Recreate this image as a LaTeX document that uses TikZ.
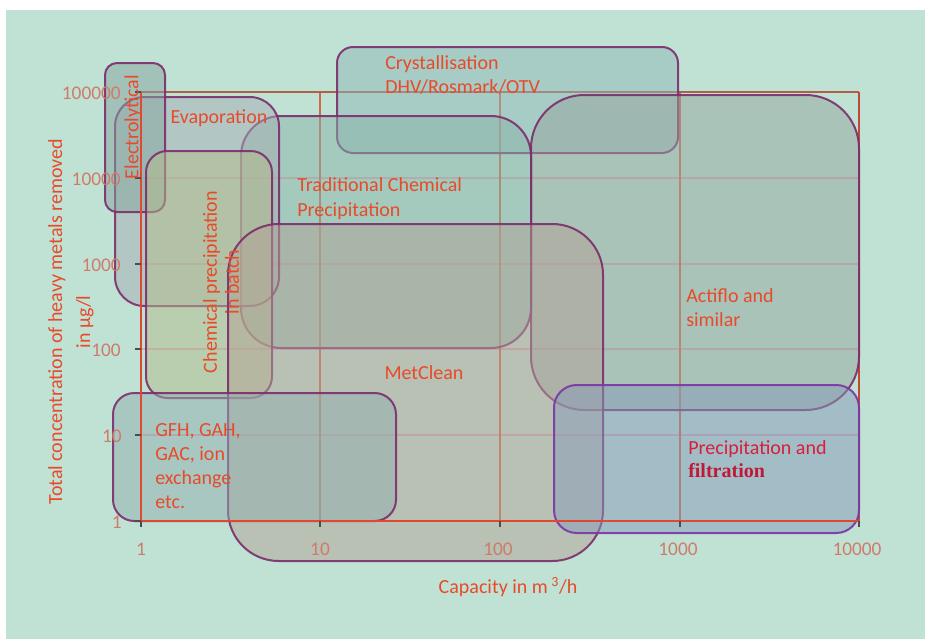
\documentclass[tikz,border=0pt]{standalone}
\usepackage{fontspec}
\setmainfont{Carlito}
\newfontfamily\serifb{Liberation Serif}
\definecolor{bgc}{HTML}{C0E2D4}
\definecolor{bord}{HTML}{7B2D6B}
\definecolor{bordv}{HTML}{7A35A5}
\definecolor{txt}{HTML}{E84A2A}
\definecolor{tick}{HTML}{CF7B6A}
\definecolor{crim}{HTML}{D81E3C}
\definecolor{crimd}{HTML}{C01838}
\definecolor{gridh}{HTML}{D4AAB4}
\definecolor{gridv}{HTML}{D06848}
\definecolor{axisc}{HTML}{E04830}
\definecolor{cElec}{HTML}{86A4A0}
\definecolor{cEvap}{HTML}{A6AEB4}
\definecolor{cBatch}{HTML}{B4BC8A}
\definecolor{cTrad}{HTML}{88B4A8}
\definecolor{cCryst}{HTML}{90B6B8}
\definecolor{cActi}{HTML}{96A69E}
\definecolor{cMet}{HTML}{B2A296}
\definecolor{cGFH}{HTML}{92AEB0}
\definecolor{cPF}{HTML}{869AB8}
\begin{document}
\begin{tikzpicture}[x=0.75pt,y=-0.75pt,
  lbl/.style={text=txt,font=\fontsize{15}{18.5}\selectfont,inner sep=0pt},
  ticklbl/.style={text=tick,font=\fontsize{14.5}{16}\selectfont,inner sep=0pt},
  box/.style={draw=bord,line width=1.5pt,fill opacity=0.5,draw opacity=0.9},
  gridline/.style={line width=0.8pt}]
\useasboundingbox (0,0) rectangle (925,639);
\fill[white] (0,0) rectangle (925,639);
\fill[bgc] (6,10) rectangle (925,639);
% grid
\foreach \yy in {178,264,349,435} \draw[gridline,gridh] (141,\yy) -- (859,\yy);
\foreach \xx in {320,500,680} \draw[gridline,gridv] (\xx,92) -- (\xx,521);
\draw[line width=0.8pt,color={rgb,255:red,176;green,96;blue,72}] (141,92) -- (859,92);
\draw[line width=1pt,color={rgb,255:red,192;green,72;blue,56}] (859,92) -- (859,521);
% boxes
\filldraw[box,fill=cCryst,rounded corners=12pt] (337,47) rectangle (678,153);
\filldraw[box,fill=cActi,rounded corners=40pt] (531,95) rectangle (859,410);
\filldraw[box,fill=cTrad,rounded corners=30pt] (241,116) rectangle (531,348);
\filldraw[box,fill=cEvap,rounded corners=22pt] (115,97) rectangle (279,306);
\filldraw[box,fill=cElec,rounded corners=9pt] (105,63) rectangle (165,212);
\filldraw[box,fill=cBatch,rounded corners=16pt] (146,151) rectangle (272,398);
\filldraw[box,fill=cMet,rounded corners=38pt] (228,224) rectangle (603,561);
\filldraw[box,fill=cGFH,rounded corners=16pt] (113,393) rectangle (396,521);
\filldraw[box,draw=bordv,fill=cPF,rounded corners=17pt] (554,385) rectangle (859,533);
% axes
\draw[line width=1.6pt,axisc] (141,92) -- (141,521);
\draw[line width=1.3pt,axisc] (141,521) -- (859,521);
\foreach \yy in {92,178,264,349,435,521} \draw[line width=0.8pt,black!70] (135,\yy) -- (141,\yy);
\foreach \xx in {141,320,500,680,859} \draw[line width=0.8pt,black!70] (\xx,521) -- (\xx,527);
% tick labels
\node[ticklbl,anchor=east] (y5) at (121,93) {100000};
\node[ticklbl,anchor=east] (y4) at (121,179) {10000};
\node[ticklbl,anchor=east] (y3) at (121,265) {1000};
\node[ticklbl,anchor=east] (y2) at (121,350) {100};
\node[ticklbl,anchor=east] (y1) at (122,436) {10};
\node[ticklbl,anchor=east] (y0) at (122,522) {1};
\node[ticklbl] (x0) at (141,549) {1};
\node[ticklbl] (x1) at (320,549) {10};
\node[ticklbl] (x2) at (498,549) {100};
\node[ticklbl] (x3) at (678,549) {1000};
\node[ticklbl] (x4) at (857,549) {10000};
% axis titles
\node[lbl,rotate=90,align=center,font=\fontsize{15}{21}\selectfont] (ytitle) at (71,322) {Total concentration of heavy metals removed\\in µg/l};
\node[lbl] (xtitle) at (508,587) {Capacity in m\,\textsuperscript{3}/h};
% box labels
\node[lbl,rotate=90] (lElec) at (133,127) {Electrolytical};
\node[lbl] (lEvap) at (219,118) {Evaporation};
\node[lbl,rotate=90,align=center,font=\fontsize{15}{16.5}\selectfont] (lBatch) at (221,282) {Chemical precipitation\\in batch};
\node[lbl,anchor=north west,align=left,font=\fontsize{15}{18.75}\selectfont] (lTrad) at (297,177) {Traditional Chemical\\Precipitation};
\node[lbl,anchor=north west,align=left,font=\fontsize{15}{18}\selectfont] (lCryst) at (385,55) {Crystallisation\\DHV/Rosmark/OTV};
\node[lbl,anchor=north west,align=left,font=\fontsize{15}{18}\selectfont] (lActi) at (686,288) {Actiflo and\\similar};
\node[lbl] (lMet) at (424,373) {MetClean};
\node[lbl,anchor=north west,align=left,font=\fontsize{15}{18}\selectfont] (lGFH) at (155,423) {GFH, GAH,\\GAC, ion\\exchange\\etc.};
\node[lbl,anchor=north west,align=left,text=crim,font=\fontsize{15}{17.5}\selectfont] (lPF) at (688,440) {Precipitation and\\{\serifb\bfseries\color{crimd}filtration}};
\end{tikzpicture}
\end{document}
